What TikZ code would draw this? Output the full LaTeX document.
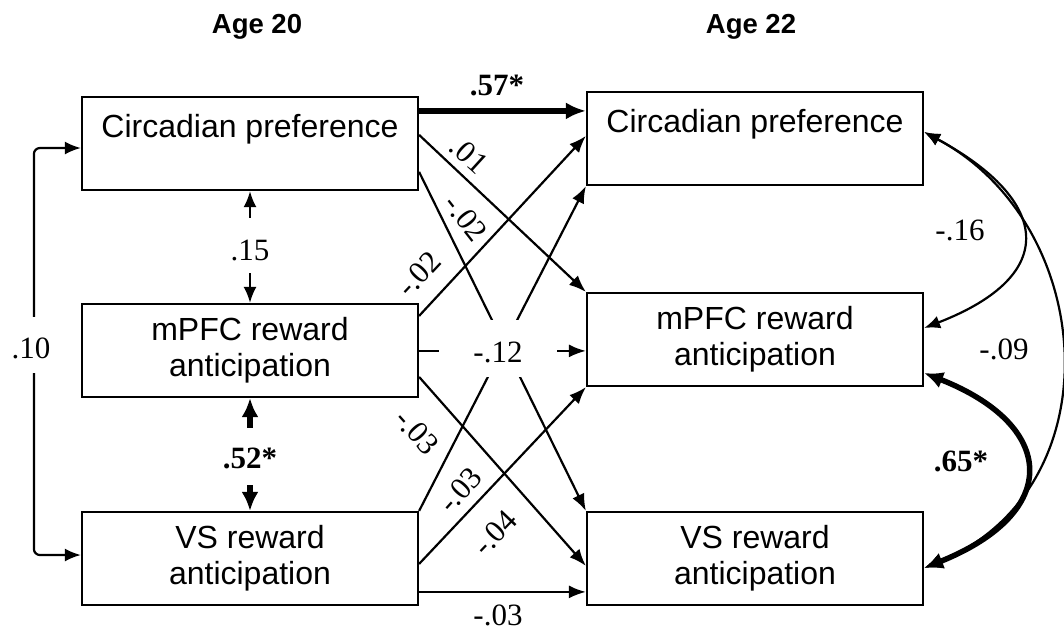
\documentclass[tikz,border=0pt]{standalone}
\usepackage{fontspec}
\setmainfont{Liberation Serif}
\newfontfamily\sansfam{Liberation Sans}
\usetikzlibrary{arrows.meta,calc}

\begin{document}
\begin{tikzpicture}[x=1pt,y=-1pt,
  box/.style={draw, line width=2.2pt, minimum width=336pt, minimum height=93pt,
    inner sep=0pt, align=center, font=\sansfam\fontsize{32}{36}\selectfont},
  head/.style={font=\sansfam\bfseries\fontsize{27.5}{30}\selectfont, inner sep=0pt},
  reg/.style={line width=2.2pt, -{Latex[length=17pt,width=13pt]}},
  regbold/.style={line width=5.5pt, -{Latex[length=20pt,width=17pt]}},
  cov/.style={line width=2.2pt, {Latex[length=16pt,width=13pt]}-{Latex[length=16pt,width=13pt]}},
  covbold/.style={line width=5.5pt, {Latex[length=19pt,width=17pt]}-{Latex[length=19pt,width=17pt]}},
  coef/.style={font=\fontsize{31}{34}\selectfont, inner sep=0pt},
  bcoef/.style={font=\bfseries\fontsize{31}{34}\selectfont, inner sep=0pt},
  gap/.style={fill=white}
]
\useasboundingbox (0,0) rectangle (1064,633);

% column headings
\node[head, anchor=base] (h20) at (257,33) {Age 20};
\node[head, anchor=base] (h22) at (751,33) {Age 22};

% measured variables
\node[box] (L1) at (250,143.5) {Circadian preference\\\phantom{x}};
\node[box] (L2) at (250,350.5) {mPFC reward\\anticipation};
\node[box] (L3) at (250,558.5) {VS reward\\anticipation};
\node[box] (R1) at (755,138.5) {Circadian preference\\\phantom{x}};
\node[box] (R2) at (755,339.5) {mPFC reward\\anticipation};
\node[box] (R3) at (755,558.5) {VS reward\\anticipation};

% cross-lagged and autoregressive paths
\draw[regbold] ($(L1.north east)+(0,15)$) -- ($(R1.north west)+(0,20)$);
\draw[reg] ($(L1.north east)+(0,39)$) -- (R2.north west);
\draw[reg] ($(L1.north east)+(0,76)$) -- (R3.north west);
\draw[reg] ($(L2.north east)+(0,13)$) -- ($(R1.north west)+(0,45)$);
\draw[reg] ($(L2.north east)+(0,74)$) -- ($(R3.north west)+(0,55)$);
\draw[reg] (L3.north east) -- (R1.south west);
\draw[reg] ($(L3.north east)+(0,53)$) -- (R2.south west);
\draw[reg] ($(L3.north east)+(0,81)$) -- ($(R3.north west)+(0,81)$);
\draw[reg] ($(L2.north east)+(0,48)$) -- ($(R2.north west)+(0,59)$);
\node[coef, gap, minimum width=118pt, text height=42pt, text depth=15pt] (l12) at (498,348.5) {-.12};

% path coefficients
\node[bcoef] (l57) at (497,85) {.57*};
\node[coef, rotate=-42.3] (l01) at (469,155) {.01};
\node[coef, rotate=-52] (l02a) at (466,218) {-.02};
\node[coef, rotate=46.8] (l02b) at (419,274) {-.02};
\node[coef, rotate=-48] (l03a) at (417,432) {-.03};
\node[coef, rotate=48] (l03b) at (460,490) {-.03};
\node[coef, rotate=46.3] (l04) at (495,533) {-.04};
\node[coef] (l03c) at (498,615) {-.03};

% correlations at age 20
\draw[cov] (L1.south) -- (L2.north);
\node[coef, gap, text height=42pt, text depth=13pt] (l15) at (250,245.5) {.15};
\draw[covbold] (L2.south) -- (L3.north);
\node[bcoef, gap, text height=40pt, text depth=17pt] (l52) at (250,456.5) {.52*};
\draw[cov, rounded corners=6pt] ($(L1.west)+(0,4.5)$) -- ($(L1.west)+(-47,4.5)$)
  |- ($(L3.west)+(0,-3.5)$);
\node[coef, gap, text height=41pt, text depth=15pt] (l10) at (31,345) {.10};

% residual correlations at age 22
\draw[cov] ($(R1.east)+(0,-6.5)$) .. controls +(126,68) and +(137,-53) .. ($(R2.east)+(0,-11.5)$);
\draw[cov] ($(R1.east)+(0,-6.5)$) .. controls +(174,93) and +(192,-78) .. ($(R3.east)+(0,9.5)$);
\draw[covbold] ($(R2.east)+(0,33.5)$) .. controls +(132,52) and +(139,-56) .. ($(R3.east)+(0,9.5)$);
\node[coef] (l16) at (960,230) {-.16};
\node[coef] (l09) at (1004,349) {-.09};
\node[bcoef] (l65) at (961,461) {.65*};
\end{tikzpicture}
\end{document}
